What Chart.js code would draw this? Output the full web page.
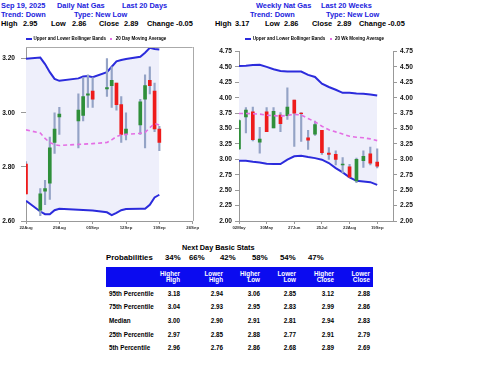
<!DOCTYPE html>
<html><head><meta charset="utf-8">
<script src="https://cdn.jsdelivr.net/npm/chart.js@4.4.1/dist/chart.umd.min.js"></script>
<style>
body{margin:0;width:480px;height:371px;overflow:hidden;background:#fff;position:relative;font-family:"Liberation Sans",Arial,sans-serif;font-weight:bold}
.t{position:absolute;white-space:nowrap;line-height:1}
.h{font-size:7.4px}
.blue{color:#2222dd}
.blk{color:#000}
canvas{position:absolute}
#tbl{position:absolute;left:106px;top:267px;width:267px;height:90px}
#thead{position:absolute;left:0;top:0;width:267px;height:20px;background:#0b0bf0}
.c{position:absolute;width:50px;text-align:right;font-size:6.3px;line-height:1.05}
</style></head>
<body>
<canvas id="daily" width="200" height="201" style="left:0;top:34px"></canvas>
<canvas id="weekly" width="230" height="201" style="left:200px;top:34px"></canvas>
<div id="txt"></div>
<div id="tbl"><div id="thead"></div></div>
<script>
// ---------- DATA ----------
const dailyDates = ['2025-08-22','2025-08-25','2025-08-26','2025-08-27','2025-08-28','2025-08-29','2025-09-02','2025-09-03','2025-09-04','2025-09-05','2025-09-08','2025-09-09','2025-09-10','2025-09-11','2025-09-12','2025-09-15','2025-09-16','2025-09-17','2025-09-18','2025-09-19'];
const dailyOpen  = [2.81,2.64,2.71,2.74,2.89,2.985,2.97,2.99,3.065,3.08,3.088,3.10,3.11,3.03,2.92,2.955,3.05,3.12,3.08,2.94];
const dailyHigh  = [2.82,2.72,2.75,2.91,3.00,3.02,3.07,3.13,3.14,3.13,3.20,3.17,3.11,3.06,3.00,3.05,3.14,3.17,3.11,2.95];
const dailyLow   = [2.70,2.62,2.66,2.68,2.85,2.92,2.87,2.97,3.02,3.02,3.06,3.02,3.01,2.89,2.90,2.92,2.87,3.07,2.93,2.86];
const dailyClose = [2.70,2.70,2.72,2.87,2.94,2.995,3.01,3.06,3.07,3.05,3.093,3.12,3.03,2.92,2.94,3.04,3.10,3.10,2.94,2.89];
const dailyUpper = [3.20,3.204,3.18,3.15,3.125,3.118,3.127,3.134,3.136,3.131,3.15,3.17,3.19,3.195,3.199,3.207,3.222,3.24,3.236,3.234];
const dailyLower = [2.675,2.635,2.625,2.625,2.64,2.645,2.642,2.641,2.64,2.639,2.632,2.622,2.63,2.64,2.644,2.645,2.645,2.66,2.687,2.697];
const dailyMA    = [2.937,2.925,2.905,2.89,2.882,2.879,2.883,2.884,2.885,2.886,2.89,2.90,2.912,2.918,2.92,2.924,2.927,2.945,2.96,2.955];
const dailyTickDates = ['2025-08-22','2025-08-29','2025-09-05','2025-09-12','2025-09-19','2025-09-26'];
const dailyYTicks = [2.60,2.80,3.00,3.20];

const weeklyDates = ['2025-05-02','2025-05-09','2025-05-16','2025-05-23','2025-05-30','2025-06-06','2025-06-13','2025-06-20','2025-06-27','2025-07-04','2025-07-11','2025-07-18','2025-07-25','2025-08-01','2025-08-08','2025-08-15','2025-08-22','2025-08-29','2025-09-05','2025-09-12','2025-09-19'];
const weeklyOpen  = [3.17,3.69,3.77,3.28,3.77,3.51,3.72,3.71,3.96,3.75,3.35,3.41,3.47,3.10,3.08,2.91,2.88,2.65,2.98,3.09,2.955];
const weeklyHigh  = [3.64,3.84,3.85,3.52,3.84,3.84,3.76,4.16,3.96,3.76,3.47,3.62,3.47,3.19,3.14,3.03,2.92,3.02,3.14,3.20,3.17];
const weeklyLow   = [3.16,3.43,3.30,3.10,3.45,3.51,3.45,3.65,3.21,3.29,3.16,3.39,3.08,3.00,2.91,2.78,2.71,2.62,2.87,2.91,2.86];
const weeklyClose = [3.63,3.80,3.32,3.33,3.45,3.78,3.58,3.85,3.75,3.74,3.31,3.565,3.11,3.08,3.00,2.925,2.71,3.00,3.05,2.94,2.89];
const weeklyUpper = [4.516,4.52,4.53,4.533,4.50,4.462,4.435,4.424,4.424,4.424,4.37,4.337,4.228,4.174,4.13,4.08,4.08,4.07,4.065,4.054,4.038];
const weeklyLower = [2.978,2.978,2.96,2.95,2.93,2.924,2.924,2.995,3.049,3.06,3.038,3.02,2.995,2.94,2.859,2.788,2.707,2.652,2.641,2.63,2.587];
const weeklyMA    = [3.745,3.745,3.74,3.735,3.717,3.71,3.70,3.715,3.728,3.72,3.663,3.609,3.538,3.48,3.446,3.41,3.375,3.359,3.35,3.332,3.304];
const weeklyTickDates = ['2025-05-02','2025-05-30','2025-06-27','2025-07-25','2025-08-22','2025-09-19'];
const weeklyYTicks = [2.00,2.25,2.50,2.75,3.00,3.25,3.50,3.75,4.00,4.25,4.50,4.75];

const dailyHeader = ['Sep 19, 2025','Daily Nat Gas','Last 20 Days','Trend: Down','Type: New Low'];
const weeklyHeader = ['Weekly Nat Gas','Last 20 Weeks','Trend: Down','Type: New Low'];
const statLabels = ['High','Low','Close','Change'];
const dailyStats = ['2.95','2.86','2.89','-0.05'];
const weeklyStats = ['3.17','2.86','2.89','-0.05'];

const probLabels = ['34%','66%','42%','58%','54%','47%'];
const tableCols = [['Higher','High'],['Lower','High'],['Higher','Low'],['Lower','Low'],['Higher','Close'],['Lower','Close']];
const rowLabels = ['95th Percentile','75th Percentile','Median','25th Percentile','5th Percentile'];
const p95 = ['3.18','2.94','3.06','2.85','3.12','2.88'];
const p75 = ['3.04','2.93','2.95','2.83','2.99','2.86'];
const pMed = ['3.00','2.90','2.91','2.81','2.94','2.83'];
const p25 = ['2.97','2.85','2.88','2.77','2.91','2.79'];
const p5  = ['2.96','2.76','2.86','2.68','2.89','2.69'];

// ---------- TEXT ----------
const txt = document.getElementById('txt');
function put(x, yc, s, cls, size){
  const d = document.createElement('div');
  d.className = 't ' + cls;
  d.style.fontSize = size + 'px';
  d.style.left = x + 'px';
  d.style.top = (yc - size/2) + 'px';
  d.textContent = s;
  txt.appendChild(d);
}
put(1,5.5,dailyHeader[0],'blue',7.4); put(57,5.5,dailyHeader[1],'blue',7.4); put(122,5.5,dailyHeader[2],'blue',7.4);
put(1,14.3,dailyHeader[3],'blue',7.4); put(74,14.3,dailyHeader[4],'blue',7.4);
put(256,5.5,weeklyHeader[0],'blue',7.4); put(321,5.5,weeklyHeader[1],'blue',7.4);
put(250,14.3,weeklyHeader[2],'blue',7.4); put(326,14.3,weeklyHeader[3],'blue',7.4);
const dLabX=[1,51,99,147], dValX=[23,72,124,176];
const wLabX=[215,265,312,359], wValX=[235,284,337,388];
statLabels.forEach((l,i)=>{ put(dLabX[i],23.3,l,'blk',7.4); put(dValX[i],23.3,dailyStats[i],'blk',7.4);
  put(wLabX[i],23.3,l,'blk',7.4); put(wValX[i],23.3,weeklyStats[i],'blk',7.4); });
put(182,247.7,'Next Day Basic Stats','blk',7.3);
put(106,257.7,'Probabilities','blk',7.8);
const probX=[165,189,220,252,280,308];
probLabels.forEach((p,i)=>put(probX[i],257.7,p,'blk',7.8));

const tbl = document.getElementById('tbl'), th = document.getElementById('thead');
const colRight = [74,117,154,190,228,264];
tableCols.forEach((c,i)=>{
  const d=document.createElement('div'); d.className='c'; d.style.color='#fff';
  d.style.left=(colRight[i]-50)+'px'; d.style.top='3.5px'; d.innerHTML=c[0]+'<br>'+c[1]; th.appendChild(d);
});
const rowsData=[p95,p75,pMed,p25,p5];
const rowY=[27,40.7,54.3,68,81.7];
rowLabels.forEach((r,ri)=>{
  const d=document.createElement('div'); d.className='c'; d.style.textAlign='left'; d.style.width='60px';
  d.style.left='3px'; d.style.top=(rowY[ri]-3.3)+'px'; d.textContent=r; tbl.appendChild(d);
  rowsData[ri].forEach((v,ci)=>{
    const e=document.createElement('div'); e.className='c';
    e.style.left=(colRight[ci]-50)+'px'; e.style.top=(rowY[ri]-3.3)+'px'; e.textContent=v; tbl.appendChild(e);
  });
});

// ---------- CHARTS ----------
Chart.defaults.font.family = '"Liberation Sans", Arial, sans-serif';
const BLUE='#2b2bdc', FILL='#eeeffb', MAG='#e46ee4', WICK='#94a3c6', UP='#2f8f3a', DOWN='#ee1b1b';
const MON=['Jan','Feb','Mar','Apr','May','Jun','Jul','Aug','Sep','Oct','Nov','Dec'];
const ms = s => Date.parse(s+'T00:00:00Z');
const dayNum = (s, base) => Math.round((ms(s)-ms(base))/86400000);
const lab = (base, v) => { const d=new Date(ms(base)+v*86400000); return String(d.getUTCDate()).padStart(2,'0')+MON[d.getUTCMonth()]; };

function marker(w,h,color){ const c=document.createElement('canvas'); c.width=w; c.height=h; const x=c.getContext('2d'); x.fillStyle=color; x.fillRect(0,0,w,h); return c; }
const lineMark = marker(6,2,BLUE), dotMark = marker(2,2,MAG);

function makeChart(id, o){
  const base = o.dates[0];
  const xs = o.dates.map(d=>dayNum(d, base));
  const pts = arr => xs.map((x,i)=>({x, y:arr[i]}));
  const tickDays = o.tickDates.map(d=>dayNum(d, base));
  const tickFont = {size:6.6, weight:'bold'};
  const scales = {
    x:{type:'linear', min:0, max:o.xmax, offset:false,
       grid:{drawOnChartArea:false, offset:false, tickLength:3, color:'#999'},
       border:{color:'#999'},
       ticks:{font:{size:4.3, weight:'bold'}, color:'#333', padding:1, maxRotation:0, autoSkip:false, callback:v=>lab(base,v)},
       afterBuildTicks:s=>{s.ticks=tickDays.map(v=>({value:v}));},
       afterFit:s=>{s.height=14;}},
    y:{type:'linear', position:'left', min:o.ymin, max:o.ymax,
       grid:{drawOnChartArea:false, tickLength:o.tickLen, color:'#999'},
       border:{color:'#999'},
       ticks:{font:tickFont, color:'#111', padding:o.tickPad, callback:v=>Number(v).toFixed(2)},
       afterBuildTicks:s=>{s.ticks=o.yticks.map(v=>({value:v}));},
       afterFit:s=>{s.width=o.leftW;}}
  };
  if (o.rightAxis){
    scales.y2 = {type:'linear', position:'right', min:o.ymin, max:o.ymax,
       grid:{drawOnChartArea:false, tickLength:4, color:'#999'}, border:{color:'#999'},
       ticks:{font:tickFont, color:'#111', padding:3, callback:v=>Number(v).toFixed(2)},
       afterBuildTicks:s=>{s.ticks=o.yticks.map(v=>({value:v}));},
       afterFit:s=>{s.width=o.rightW;}};
  }
  const plugins = [{id:'lh', beforeInit(chart){ const f=chart.legend.fit; chart.legend.fit=function(){ f.call(this); this.height=o.legendH; }; }}];
  if (o.frame) plugins.push({id:'frame', afterDatasetsDraw(chart){ const a=chart.chartArea, c=chart.ctx; c.save(); c.strokeStyle='#aaa'; c.lineWidth=1;
     c.beginPath(); c.moveTo(a.left, Math.round(a.top)+0.5); c.lineTo(a.right, Math.round(a.top)+0.5);
     c.moveTo(Math.round(a.right)+0.5, a.top); c.lineTo(Math.round(a.right)+0.5, a.bottom); c.stroke(); c.restore(); }});
  return new Chart(document.getElementById(id), {
    type:'bar',
    data:{datasets:[
      {type:'line', data:pts(o.upper), borderColor:BLUE, borderWidth:2, pointRadius:0, fill:'+1', backgroundColor:FILL, order:10},
      {type:'line', data:pts(o.lower), borderColor:BLUE, borderWidth:2, pointRadius:0, fill:false, order:9},
      {type:'bar', data:xs.map((x,i)=>({x, y:[o.low[i], o.high[i]]})), backgroundColor:WICK, barThickness:1.5, grouped:false, order:5},
      {type:'bar', data:xs.map((x,i)=>({x, y:[o.open[i], o.close[i]]})), backgroundColor:xs.map((x,i)=>o.close[i]>=o.open[i]?UP:DOWN), barThickness:3, grouped:false, order:4},
      {type:'line', data:pts(o.ma), borderColor:MAG, borderWidth:1.6, borderDash:[4,3], pointRadius:0, fill:false, order:3}
    ]},
    options:{responsive:false, animation:false, devicePixelRatio:1,
      layout:{padding:{left:0, right:o.padR, top:0, bottom:0}},
      scales,
      plugins:{tooltip:{enabled:false},
        legend:{display:true, position:'top', labels:{font:{size:4.5, weight:'bold'}, color:'#444', usePointStyle:true, boxHeight:4, padding:3,
          generateLabels:()=>[
            {text:'Upper and Lower Bollinger Bands', pointStyle:lineMark, fillStyle:BLUE, strokeStyle:BLUE, lineWidth:0, hidden:false, datasetIndex:0},
            {text:o.maLabel, pointStyle:dotMark, fillStyle:MAG, strokeStyle:MAG, lineWidth:0, hidden:false, datasetIndex:4}]}}}},
    plugins
  });
}

makeChart('daily', {dates:dailyDates, tickDates:dailyTickDates, xmax:35, ymin:2.60, ymax:3.243, yticks:dailyYTicks,
  open:dailyOpen, high:dailyHigh, low:dailyLow, close:dailyClose, upper:dailyUpper, lower:dailyLower, ma:dailyMA,
  maLabel:'20 Day Moving Average', leftW:26, padR:7, tickLen:5, tickPad:6, legendH:13, frame:true});
makeChart('weekly', {dates:weeklyDates, tickDates:weeklyTickDates, xmax:156, ymin:2.00, ymax:4.75, yticks:weeklyYTicks,
  open:weeklyOpen, high:weeklyHigh, low:weeklyLow, close:weeklyClose, upper:weeklyUpper, lower:weeklyLower, ma:weeklyMA,
  maLabel:'20 Wk Moving Average', leftW:39, rightW:37, rightAxis:true, padR:0, tickLen:4, tickPad:3, legendH:17.5, frame:false});
</script>
</body></html>
